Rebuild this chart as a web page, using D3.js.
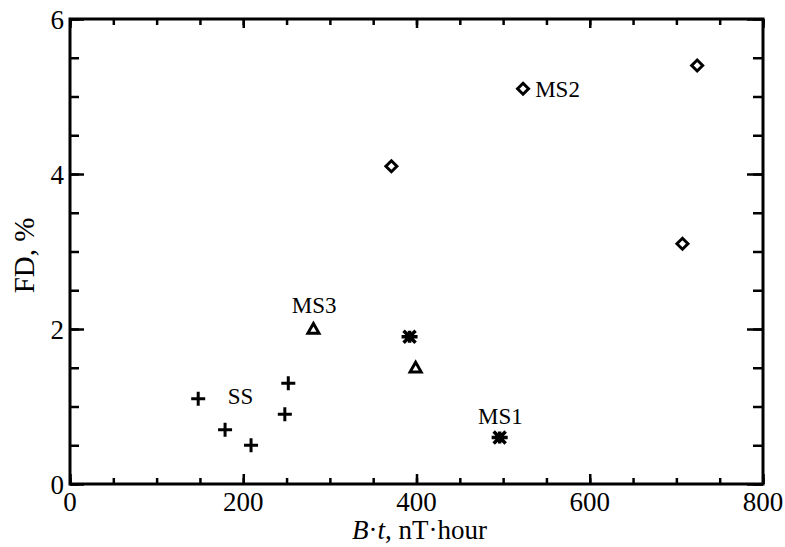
<!DOCTYPE html>
<html><head><meta charset="utf-8">
<script src="https://cdn.jsdelivr.net/npm/d3@7"></script>
<style>
html,body{margin:0;padding:0;background:#fff;}
svg text{font-family:"Liberation Serif","Times New Roman",serif;fill:#000;}
</style></head>
<body><svg id="c" width="785" height="547"></svg>
<script>
// Data
const ssX = [148, 179, 209, 248, 252];
const ssY = [1.1, 0.7, 0.5, 0.9, 1.3];
const ms3X = [281, 399];
const ms3Y = [2.0, 1.5];
const ms1X = [392, 496];
const ms1Y = [1.9, 0.6];
const ms2X = [371, 523, 707, 724];
const ms2Y = [4.1, 5.1, 3.1, 5.4];
const xTicks = [0, 200, 400, 600, 800];
const yTicks = [0, 2, 4, 6];
const labels = [
  {t:"SS", x:182, y:1.03},
  {t:"MS3", x:256, y:2.21},
  {t:"MS2", x:537, y:4.99},
  {t:"MS1", x:471, y:0.77}
];

const svg = d3.select("#c");
const L=70, R=763, T=19, B=484;
const x = d3.scaleLinear().domain([0,800]).range([L,R]);
const y = d3.scaleLinear().domain([0,6]).range([B,T]);

const xMinor = d3.range(0,801,50);
const yMinor = d3.range(0,6.01,0.5);

function styleAxis(g){ g.select(".domain").remove(); g.selectAll("line").attr("stroke","#000").attr("stroke-width",2.5); }
svg.append("g").attr("transform",`translate(0,${B})`)
  .call(d3.axisTop(x).tickValues(xMinor).tickSize(6).tickFormat("")).call(styleAxis);
svg.append("g").attr("transform",`translate(0,${B})`)
  .call(d3.axisTop(x).tickValues(xTicks).tickSize(10).tickFormat("")).call(styleAxis);
svg.append("g").attr("transform",`translate(0,${T})`)
  .call(d3.axisBottom(x).tickValues(xMinor).tickSize(6).tickFormat("")).call(styleAxis);
svg.append("g").attr("transform",`translate(0,${T})`)
  .call(d3.axisBottom(x).tickValues(xTicks).tickSize(9).tickFormat("")).call(styleAxis);
svg.append("g").attr("transform",`translate(${L},0)`)
  .call(d3.axisRight(y).tickValues(yMinor).tickSize(9).tickFormat("")).call(styleAxis);
svg.append("g").attr("transform",`translate(${L},0)`)
  .call(d3.axisRight(y).tickValues(yTicks).tickSize(14).tickFormat("")).call(styleAxis);
svg.append("g").attr("transform",`translate(${R},0)`)
  .call(d3.axisLeft(y).tickValues(yMinor).tickSize(10).tickFormat("")).call(styleAxis);
svg.append("g").attr("transform",`translate(${R},0)`)
  .call(d3.axisLeft(y).tickValues(yTicks).tickSize(16).tickFormat("")).call(styleAxis);

svg.append("rect").attr("x",L).attr("y",T).attr("width",R-L).attr("height",B-T)
  .attr("fill","none").attr("stroke","#000").attr("stroke-width",3);

svg.append("g").selectAll("text").data(xTicks).join("text")
  .attr("x",d=>x(d)).attr("y",B+27).attr("text-anchor","middle")
  .attr("font-size",27).text(d=>d);
svg.append("g").selectAll("text").data(yTicks).join("text")
  .attr("x",L-6).attr("y",d=>y(d)+9.5).attr("text-anchor","end")
  .attr("font-size",27).text(d=>d);

const xt = svg.append("text").attr("x",(L+R)/2+3).attr("y",539).attr("text-anchor","middle").attr("font-size",27);
xt.append("tspan").attr("font-style","italic").text("B");
xt.append("tspan").text("·");
xt.append("tspan").attr("font-style","italic").text("t");
xt.append("tspan").text(", nT·hour");
svg.append("text").attr("transform",`translate(34,${(T+B)/2+4}) rotate(-90)`)
  .attr("text-anchor","middle").attr("font-size",29).text("FD, %");

const g = svg.append("g").attr("stroke","#000").attr("fill","none");
g.selectAll(".ss").data(ssX.map((v,i)=>[v,ssY[i]])).join("path").attr("stroke-width",3)
  .attr("d",d=>{const cx=x(d[0]),cy=y(d[1]),r=7;return `M${cx-r},${cy}H${cx+r}M${cx},${cy-r}V${cy+r}`;});
g.selectAll(".ms3").data(ms3X.map((v,i)=>[v,ms3Y[i]])).join("path").attr("stroke-width",3)
  .attr("stroke-linejoin","miter")
  .attr("d",d=>{const cx=x(d[0]),cy=y(d[1]),r=5.5;return `M${cx},${cy-r}L${cx+r},${cy+r*0.75}L${cx-r},${cy+r*0.75}Z`;});
g.selectAll(".ms1").data(ms1X.map((v,i)=>[v,ms1Y[i]])).join("path").attr("stroke-width",3.5)
  .attr("d",d=>{const cx=x(d[0]),cy=y(d[1]),r=8,q=6;return `M${cx-r},${cy}H${cx+r}M${cx-q},${cy-q}L${cx+q},${cy+q}M${cx-q},${cy+q}L${cx+q},${cy-q}M${cx},${cy-q}V${cy+q}`;});
g.selectAll(".ms2").data(ms2X.map((v,i)=>[v,ms2Y[i]])).join("path").attr("stroke-width",3)
  .attr("stroke-linejoin","miter")
  .attr("d",d=>{const cx=x(d[0]),cy=y(d[1]),r=5.5;return `M${cx},${cy-r}L${cx+r},${cy}L${cx},${cy+r}L${cx-r},${cy}Z`;});

svg.append("g").selectAll("text").data(labels).join("text")
  .attr("x",d=>x(d.x)).attr("y",d=>y(d.y))
  .attr("font-size",23).text(d=>d.t);
</script></body></html>
